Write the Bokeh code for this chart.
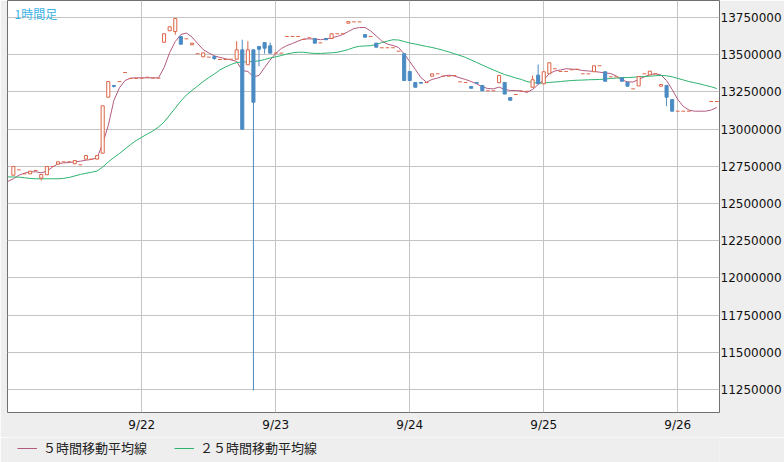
from bokeh.plotting import figure
from bokeh.layouts import column
from bokeh.models import ColumnDataSource, FixedTicker, Legend, LegendItem, Label, Range1d
from bokeh.embed import file_html
from bokeh.resources import INLINE

# hours since 9/21 00:00 (1-hour candles)
hour = list(range(128))

# prices in yen
open_ = [None, 12690000, 12726000, 12699000, 12699000, 12722000, 12670000, 12693000, 12749000, 12764000,
         12780000, 12780000, 12767000, 12760000, 12798000, 12798000, 12798000, 12838000, 13214000, 13293000,
         13319000, 13380000, 13340000, 13340000, 13342000, 13348000, 13342000, 13342000, 13583000, 13660000,
         13655000, 13622000, 13606000, 13566000, 13506000, 13485000, 13483000, 13487000, 13467000, 13467000,
         13469000, 13469000, 13532000, 13432000, 13532000, 13555000, 13581000, 13559000, 13510000, 13510000,
         13622000, 13622000, 13622000, 13602000, 13613000, 13608000, 13579000, 13608000, 13608000, 13640000,
         13640000, 13711000, 13720000, 13720000, 13635000, 13622000, 13577000, 13546000, 13546000, 13546000,
         13523000, 13506000, 13387000, 13313000, 13313000, 13313000, 13355000, 13371000, 13355000, 13355000,
         13360000, 13317000, 13313000, 13286000, 13313000, 13293000, 13257000, 13257000, 13311000, 13313000,
         13212000, 13232000, 13254000, 13254000, 13281000, 13362000, 13304000, 13371000, 13405000, 13387000,
         13387000, 13398000, 13402000, 13371000, 13371000, 13385000, 13425000, 13385000, 13351000, 13351000,
         13344000, 13315000, 13270000, 13290000, 13371000, 13364000, 13371000, 13288000, 13293000, 13198000,
         13120000, 13120000, 13120000, None, None, None, 13185000, 13185000]

high = [None, 12749000, 12726000, 12699000, 12717000, 12722000, 12695000, 12749000, 12749000, 12780000,
        12780000, 12780000, 12789000, 12760000, 12822000, 12798000, 12822000, 13156000, 13319000, 13293000,
        13319000, 13380000, 13340000, 13340000, 13342000, 13348000, 13342000, 13342000, 13640000, 13687000,
        13743000, 13622000, 13606000, 13577000, 13506000, 13512000, 13483000, 13487000, 13467000, 13467000,
        13469000, 13590000, 13600000, 13590000, 13532000, 13555000, 13581000, 13581000, 13510000, 13510000,
        13622000, 13622000, 13622000, 13602000, 13613000, 13608000, 13579000, 13608000, 13640000, 13640000,
        13640000, 13722000, 13720000, 13720000, 13635000, 13622000, 13577000, 13546000, 13546000, 13546000,
        13523000, 13506000, 13387000, 13313000, 13313000, 13313000, 13371000, 13371000, 13355000, 13355000,
        13360000, 13317000, 13313000, 13286000, 13313000, 13293000, 13257000, 13257000, 13360000, 13313000,
        13212000, 13232000, 13254000, 13254000, 13360000, 13434000, 13385000, 13445000, 13405000, 13387000,
        13387000, 13398000, 13402000, 13371000, 13371000, 13425000, 13425000, 13385000, 13351000, 13351000,
        13344000, 13315000, 13270000, 13353000, 13371000, 13389000, 13371000, 13299000, 13293000, 13198000,
        13120000, 13120000, 13120000, None, None, None, 13185000, 13185000]

low = [None, 12690000, 12726000, 12699000, 12699000, 12722000, 12654000, 12693000, 12749000, 12764000,
       12780000, 12780000, 12767000, 12760000, 12798000, 12798000, 12798000, 12838000, 13214000, 13279000,
       13319000, 13380000, 13340000, 13340000, 13342000, 13348000, 13342000, 13342000, 13583000, 13660000,
       13633000, 13570000, 13606000, 13566000, 13506000, 13485000, 13483000, 13465000, 13467000, 13467000,
       13469000, 13469000, 12999000, 13432000, 11244000, 13422000, 13506000, 13510000, 13510000, 13510000,
       13622000, 13622000, 13622000, 13602000, 13613000, 13577000, 13579000, 13600000, 13608000, 13640000,
       13640000, 13711000, 13720000, 13720000, 13617000, 13622000, 13550000, 13546000, 13546000, 13546000,
       13523000, 13326000, 13326000, 13281000, 13308000, 13313000, 13355000, 13371000, 13355000, 13355000,
       13360000, 13317000, 13313000, 13274000, 13308000, 13257000, 13257000, 13257000, 13311000, 13235000,
       13193000, 13232000, 13254000, 13254000, 13281000, 13304000, 13304000, 13371000, 13405000, 13387000,
       13387000, 13398000, 13402000, 13371000, 13371000, 13385000, 13425000, 13321000, 13351000, 13351000,
       13321000, 13288000, 13270000, 13290000, 13371000, 13364000, 13371000, 13288000, 13153000, 13120000,
       13120000, 13120000, 13120000, None, None, None, 13185000, 13185000]

close = [None, 12749000, 12726000, 12699000, 12717000, 12722000, 12695000, 12749000, 12749000, 12780000,
         12780000, 12780000, 12789000, 12760000, 12822000, 12798000, 12822000, 13156000, 13319000, 13286000,
         13319000, 13380000, 13340000, 13340000, 13342000, 13348000, 13342000, 13342000, 13640000, 13687000,
         13743000, 13570000, 13606000, 13577000, 13506000, 13512000, 13483000, 13474000, 13467000, 13467000,
         13469000, 13532000, 12999000, 13532000, 13180000, 13536000, 13543000, 13510000, 13510000, 13510000,
         13622000, 13622000, 13622000, 13602000, 13613000, 13577000, 13579000, 13600000, 13640000, 13640000,
         13640000, 13722000, 13720000, 13720000, 13617000, 13622000, 13550000, 13546000, 13546000, 13546000,
         13523000, 13326000, 13326000, 13281000, 13308000, 13313000, 13371000, 13371000, 13355000, 13355000,
         13360000, 13317000, 13313000, 13274000, 13308000, 13257000, 13257000, 13257000, 13360000, 13235000,
         13193000, 13232000, 13254000, 13254000, 13331000, 13304000, 13385000, 13445000, 13405000, 13387000,
         13387000, 13398000, 13402000, 13371000, 13371000, 13425000, 13425000, 13321000, 13351000, 13351000,
         13321000, 13288000, 13270000, 13353000, 13371000, 13389000, 13371000, 13299000, 13214000, 13120000,
         13120000, 13120000, 13120000, None, None, None, 13185000, 13185000]

ma5 = [12648000, 12666000, 12690000, 12704000, 12713000, 12713000, 12706000, 12717000, 12744000, 12767000,
       12773000, 12775000, 12780000, 12784000, 12791000, 12796000, 12807000, 12901000, 13024000, 13192000,
       13277000, 13326000, 13342000, 13344000, 13344000, 13344000, 13344000, 13344000, 13413000, 13514000,
       13588000, 13635000, 13645000, 13618000, 13575000, 13534000, 13511000, 13492000, 13481000, 13472000,
       13465000, 13454000, 13393000, 13387000, 13351000, 13360000, 13413000, 13464000, 13508000, 13541000,
       13561000, 13575000, 13591000, 13605000, 13606000, 13605000, 13600000, 13605000, 13613000, 13622000,
       13635000, 13655000, 13675000, 13682000, 13682000, 13659000, 13625000, 13591000, 13571000, 13561000,
       13548000, 13504000, 13454000, 13400000, 13346000, 13315000, 13333000, 13343000, 13356000, 13362000,
       13356000, 13344000, 13333000, 13319000, 13303000, 13284000, 13272000, 13270000, 13282000, 13266000,
       13259000, 13259000, 13256000, 13246000, 13266000, 13299000, 13331000, 13373000, 13390000, 13397000,
       13405000, 13403000, 13400000, 13393000, 13390000, 13387000, 13382000, 13377000, 13373000, 13356000,
       13330000, 13317000, 13316000, 13333000, 13350000, 13366000, 13371000, 13363000, 13326000, 13266000,
       13199000, 13152000, 13128000, 13120000, 13120000, 13120000, 13128000, 13145000]

ma25 = [12679000, 12678000, 12677000, 12673000, 12668000, 12666000, 12666000, 12666000, 12666000, 12666000,
        12669000, 12675000, 12685000, 12695000, 12703000, 12710000, 12718000, 12745000, 12779000, 12809000,
        12836000, 12866000, 12896000, 12923000, 12945000, 12967000, 12987000, 13014000, 13047000, 13094000,
        13141000, 13188000, 13229000, 13259000, 13289000, 13319000, 13346000, 13370000, 13397000, 13417000,
        13434000, 13447000, 13450000, 13452000, 13454000, 13458000, 13467000, 13477000, 13485000, 13494000,
        13504000, 13512000, 13516000, 13516000, 13511000, 13508000, 13508000, 13510000, 13512000, 13516000,
        13524000, 13534000, 13548000, 13556000, 13558000, 13560000, 13568000, 13581000, 13591000, 13600000,
        13598000, 13588000, 13578000, 13571000, 13563000, 13555000, 13548000, 13539000, 13529000, 13518000,
        13506000, 13494000, 13481000, 13464000, 13447000, 13430000, 13413000, 13397000, 13381000, 13366000,
        13355000, 13343000, 13333000, 13319000, 13313000, 13308000, 13309000, 13313000, 13316000, 13319000,
        13323000, 13326000, 13328000, 13329000, 13331000, 13332000, 13333000, 13336000, 13340000, 13342000,
        13345000, 13346000, 13348000, 13351000, 13353000, 13355000, 13358000, 13360000, 13358000, 13351000,
        13340000, 13330000, 13319000, 13311000, 13303000, 13293000, 13284000, 13272000]

x_tick_hours = [24, 48, 72, 96, 120]
x_tick_labels = ["9/22", "9/23", "9/24", "9/25", "9/26"]
y_ticks = [11250000, 11500000, 11750000, 12000000, 12250000, 12500000,
           12750000, 13000000, 13250000, 13500000, 13750000]
y_tick_labels = ["11250000", "11500000", "11750000", "12000000", "12250000", "12500000",
                 "12750000", "13000000", "13250000", "13500000", "13750000"]
legend_labels = ["５時間移動平均線", "２５時間移動平均線"]

RED = "#dc6446"
BLUE = "#4b8bc3"
PINK = "#b45a80"
GREEN = "#2db36e"
BG = "#eeeeee"

p = figure(width=784, height=437, output_backend="svg", toolbar_location=None,
           x_range=Range1d(-0.05, 127.48), y_range=Range1d(11096100, 13863500),
           y_axis_location="right", min_border_left=7, min_border_top=0,
           min_border_right=0, min_border_bottom=25)
p.background_fill_color = "white"
p.border_fill_color = BG
p.outline_line_color = "#707070"
p.outline_line_width = 1

# grid
p.xgrid.ticker = FixedTicker(ticks=x_tick_hours)
p.ygrid.ticker = FixedTicker(ticks=y_ticks)
p.xgrid.grid_line_color = "#c4c4c4"
p.ygrid.grid_line_color = "#c4c4c4"

# axes
p.xaxis.ticker = FixedTicker(ticks=x_tick_hours)
p.xaxis.major_label_overrides = dict(zip(x_tick_hours, x_tick_labels))
p.yaxis.ticker = FixedTicker(ticks=y_ticks)
p.yaxis.major_label_overrides = dict(zip(y_ticks, y_tick_labels))
for ax in (p.xaxis[0], p.yaxis[0]):
    ax.axis_line_color = None
    ax.major_tick_line_color = None
    ax.minor_tick_line_color = None
    ax.major_tick_out = 0
    ax.major_tick_in = 0
    ax.minor_tick_out = 0
    ax.minor_tick_in = 0
    ax.major_label_text_font = "DejaVu Sans"
    ax.major_label_text_font_size = "12px"
    ax.major_label_text_color = "#111111"
p.xaxis.major_label_standoff = 5
p.yaxis.major_label_standoff = 1

# moving averages
r5 = p.line(hour, ma5, line_color=PINK, line_width=1)
r25 = p.line(hour, ma25, line_color=GREEN, line_width=1)

# candles
idx = [i for i in hour if open_[i] is not None]
up = [i for i in idx if close[i] > open_[i]]
dn = [i for i in idx if close[i] < open_[i]]
fl = [i for i in idx if close[i] == open_[i]]

def wick_src(ids):
    ids = [i for i in ids if high[i] > low[i]]
    return ColumnDataSource(dict(x=ids, lo=[low[i] for i in ids], hi=[high[i] for i in ids]))

p.segment(x0="x", y0="lo", x1="x", y1="hi", source=wick_src(up), line_color=RED, line_width=1)
p.segment(x0="x", y0="lo", x1="x", y1="hi", source=wick_src(dn), line_color=BLUE, line_width=1)

up_src = ColumnDataSource(dict(x=up, top=[close[i] for i in up], bottom=[open_[i] for i in up]))
dn_src = ColumnDataSource(dict(x=dn, top=[open_[i] for i in dn], bottom=[close[i] for i in dn]))
p.vbar(x="x", width=0.55, top="top", bottom="bottom", source=up_src,
       fill_color="white", line_color=RED, line_width=1)
p.vbar(x="x", width=0.55, top="top", bottom="bottom", source=dn_src,
       fill_color=BLUE, line_color=BLUE, line_width=1)
fl_src = ColumnDataSource(dict(x0=[i - 0.33 for i in fl], x1=[i + 0.33 for i in fl],
                               y=[close[i] for i in fl]))
p.segment(x0="x0", y0="y", x1="x1", y1="y", source=fl_src, line_color=RED, line_width=1)

# title inside the plot
p.add_layout(Label(x=1.2, y=13836000, text="1時間足", text_font="Noto Sans CJK JP",
                   text_font_size="12px", text_color="#3cb4e6", text_baseline="top"))

# legend strip below the chart (its lines sit outside the strip's visible range)
lg = figure(width=784, height=25, output_backend="svg", toolbar_location=None,
            x_axis_type=None, y_axis_type=None, x_range=Range1d(0, 1), y_range=Range1d(0, 1),
            min_border=0)
lg.background_fill_color = BG
lg.border_fill_color = BG
lg.outline_line_color = None
lg.grid.visible = False
k5 = lg.line([-3, -2], [-3, -3], line_color=PINK, line_width=1)
k25 = lg.line([-3, -2], [-3, -3], line_color=GREEN, line_width=1)
legend = Legend(items=[LegendItem(label=legend_labels[0], renderers=[k5]),
                       LegendItem(label=legend_labels[1], renderers=[k25])],
                orientation="horizontal", location=(10, 5),
                glyph_width=20, glyph_height=16, label_height=16, label_standoff=6,
                spacing=27, padding=0, margin=0, border_line_color=None,
                background_fill_alpha=0, label_text_font="Noto Sans CJK JP",
                label_text_font_size="13px", label_text_color="#222222")
lg.add_layout(legend)

layout = column(p, lg, spacing=0)
open("out.html", "w").write(file_html(layout, INLINE))
